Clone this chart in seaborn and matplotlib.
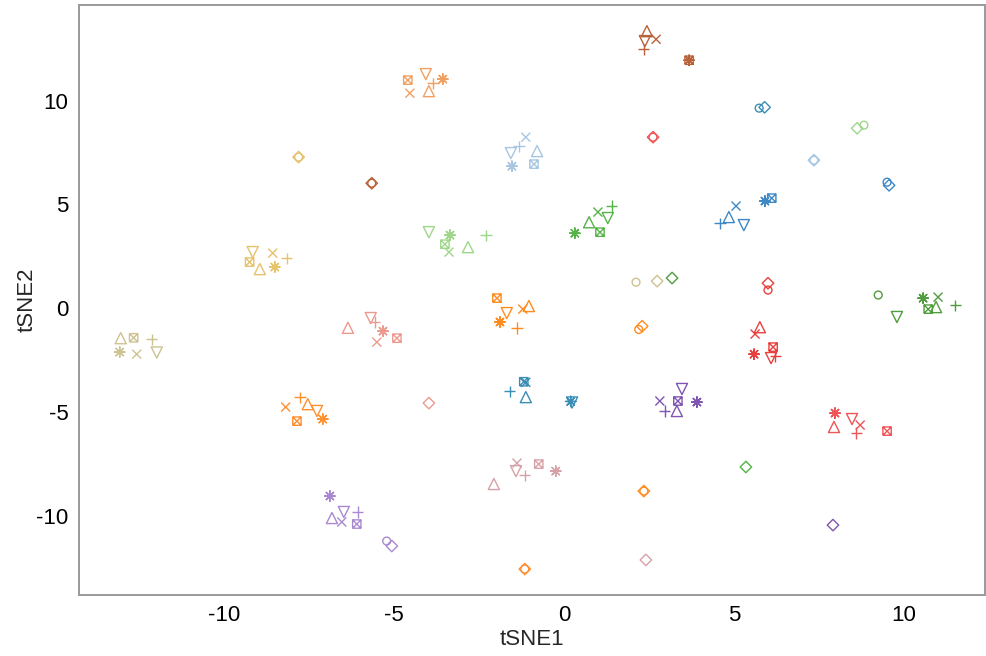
import numpy as np
import pandas as pd
import seaborn as sns
import matplotlib.pyplot as plt
from matplotlib.path import Path
from matplotlib.markers import MarkerStyle

sns.set_style("white")
plt.rcParams["font.family"] = ["Liberation Sans", "DejaVu Sans"]
plt.rcParams["axes.unicode_minus"] = False

# six-marker clusters: one row per group, columns follow shape_order
shape_order = ["up", "down", "x", "plus", "star", "sqx"]
cluster_groups = ["brown", "ltorange", "ltblue", "green", "blue", "ltgreen",
                  "gold", "khaki", "salmon", "orange", "red", "dkgreen",
                  "teal", "purple", "orange2", "red2", "ltpink", "ltpurple"]
cluster_t1 = [
    [2.44, 2.38, 2.71, 2.35, 3.68, 3.68],
    [-3.97, -4.06, -4.53, -3.85, -3.56, -4.59],
    [-0.79, -1.56, -1.12, -1.32, -1.53, -0.88],
    [0.74, 1.29, 1.00, 1.41, 0.32, 1.06],
    [4.85, 5.29, 5.06, 4.59, 5.91, 6.11],
    [-2.82, -3.97, -3.38, -2.29, -3.35, -3.50],
    [-8.94, -9.15, -8.56, -8.15, -8.50, -9.24],
    [-13.03, -11.97, -12.56, -12.12, -13.06, -12.65],
    [-6.35, -5.68, -5.50, -5.56, -5.32, -4.91],
    [-1.03, -1.68, -1.21, -1.38, -1.88, -1.97],
    [5.76, 6.09, 5.62, 6.21, 5.59, 6.15],
    [10.94, 9.79, 11.00, 11.50, 10.56, 10.71],
    [-1.12, 0.24, -1.12, -1.59, 0.20, -1.18],
    [3.32, 3.47, 2.82, 2.97, 3.91, 3.35],
    [-7.53, -7.26, -8.18, -7.76, -7.09, -7.85],
    [7.94, 8.47, 8.71, 8.59, 7.97, 9.50],
    [-2.06, -1.41, -1.38, -1.15, -0.24, -0.74],
    [-6.82, -6.47, -6.53, -6.06, -6.88, -6.09],
]
cluster_t2 = [
    [13.35, 12.87, 12.96, 12.48, 11.95, 11.95],
    [10.46, 11.28, 10.36, 10.84, 11.04, 10.99],
    [7.57, 7.47, 8.24, 7.81, 6.84, 6.94],
    [4.14, 4.34, 4.63, 4.92, 3.61, 3.66],
    [4.39, 4.00, 4.92, 4.10, 5.16, 5.30],
    [2.94, 3.66, 2.70, 3.52, 3.52, 3.08],
    [1.88, 2.70, 2.65, 2.41, 1.98, 2.22],
    [-1.45, -2.14, -2.22, -1.50, -2.12, -1.43],
    [-0.95, -0.48, -1.64, -0.67, -1.11, -1.45],
    [0.10, -0.24, -0.05, -0.96, -0.67, 0.48],
    [-0.92, -2.41, -1.25, -2.31, -2.22, -1.88],
    [0.05, -0.43, 0.53, 0.14, 0.48, -0.05],
    [-4.29, -4.55, -3.58, -4.00, -4.50, -3.55],
    [-4.96, -3.90, -4.48, -4.96, -4.53, -4.48],
    [-4.63, -4.96, -4.77, -4.29, -5.35, -5.45],
    [-5.73, -5.35, -5.64, -6.02, -5.06, -5.93],
    [-8.48, -7.86, -7.47, -8.05, -7.86, -7.52],
    [-10.12, -9.83, -10.31, -9.83, -9.06, -10.41],
]

# single circles / diamonds
extra_group = ["gold", "gold", "brown", "brown", "red2", "red2", "teal", "teal",
               "ltgreen", "ltgreen", "ltblue", "ltblue", "blue", "blue",
               "khaki", "khaki", "dkgreen", "orange", "orange", "red", "red",
               "dkgreen", "salmon", "green", "purple", "ltpurple", "ltpurple",
               "orange", "orange", "orange2", "orange2", "ltpink"]
extra_shape = ["diamond", "circle", "diamond", "circle", "diamond", "circle",
               "circle", "diamond", "diamond", "circle", "diamond", "circle",
               "circle", "diamond", "circle", "diamond", "diamond", "circle",
               "diamond", "diamond", "circle", "circle", "diamond", "diamond",
               "diamond", "circle", "diamond", "diamond", "circle", "diamond",
               "circle", "diamond"]
extra_t1 = [-7.80, -7.80, -5.65, -5.65, 2.62, 2.62, 5.74, 5.90,
            8.62, 8.82, 7.35, 7.35, 9.50, 9.56,
            2.12, 2.74, 3.18, 2.20, 2.30, 6.00, 6.00,
            9.24, -3.97, 5.35, 7.91, -5.21, -5.06,
            2.35, 2.35, -1.15, -1.15, 2.41]
extra_t2 = [7.28, 7.28, 6.02, 6.02, 8.24, 8.24, 9.64, 9.68,
            8.67, 8.82, 7.13, 7.13, 6.07, 5.92,
            1.25, 1.30, 1.45, -1.03, -0.87, 1.20, 0.87,
            0.63, -4.58, -7.66, -10.46, -11.23, -11.47,
            -8.82, -8.82, -12.58, -12.58, -12.14]

palette = {
    "brown": "#b8623a", "ltorange": "#f2a062", "ltblue": "#a6c6e2",
    "green": "#55b347", "blue": "#3f88c5", "ltgreen": "#9fd68c",
    "gold": "#e6c26c", "khaki": "#cdc292", "salmon": "#ec9a90",
    "orange": "#ff8c1f", "red": "#e8403e", "dkgreen": "#4f9d3e",
    "teal": "#3a8db4", "purple": "#7f56b2", "orange2": "#ff9030",
    "red2": "#ef5458", "ltpink": "#d6a2a8", "ltpurple": "#a98ad0",
}

rows = []
for g, xs, ys in zip(cluster_groups, cluster_t1, cluster_t2):
    for shp, xv, yv in zip(shape_order, xs, ys):
        rows.append((g, shp, xv, yv))
for g, shp, xv, yv in zip(extra_group, extra_shape, extra_t1, extra_t2):
    rows.append((g, shp, xv, yv))
df = pd.DataFrame(rows, columns=["group", "shape", "tSNE1", "tSNE2"])

# boxed cross, like ggplot shape 7
sq = Path([(-1, -1), (1, -1), (1, 1), (-1, 1), (-1, -1),
           (-1, -1), (1, 1), (-1, 1), (1, -1)],
          [Path.MOVETO, Path.LINETO, Path.LINETO, Path.LINETO, Path.LINETO,
           Path.MOVETO, Path.LINETO, Path.MOVETO, Path.LINETO])

markers = {
    "up": MarkerStyle("^", fillstyle="none"),
    "down": MarkerStyle("v", fillstyle="none"),
    "x": MarkerStyle("x"),
    "plus": MarkerStyle("+"),
    "star": MarkerStyle((8, 2, 0)),
    "sqx": MarkerStyle(sq, fillstyle="none"),
    "circle": MarkerStyle("o", fillstyle="none"),
    "diamond": MarkerStyle("D", fillstyle="none"),
}
sizes = {"up": 64, "down": 64, "x": 42, "plus": 64, "star": 56,
         "sqx": 36, "circle": 32, "diamond": 34}

fig, ax = plt.subplots(figsize=(9.86, 6.56), dpi=100)
fig.subplots_adjust(left=0.080, right=0.999, bottom=0.093, top=0.992)

for shp, mk in markers.items():
    sub = df[df["shape"] == shp]
    sns.scatterplot(data=sub, x="tSNE1", y="tSNE2", hue="group",
                    palette=palette, marker=mk, s=sizes[shp],
                    linewidth=1.0, legend=False, ax=ax)
    pts = ax.collections[-1]
    pts.set_edgecolor(pts.get_facecolor())
    pts.set_facecolor("none")

ax.set_xlim(-14.26, 12.38)
ax.set_ylim(-13.83, 14.6)
ax.set_xticks([-10, -5, 0, 5, 10])
ax.set_yticks([-10, -5, 0, 5, 10])
ax.tick_params(axis="both", labelsize=16, length=4, width=1,
               color="#555555", labelcolor="black", direction="out")
for sp in ax.spines.values():
    sp.set_visible(True)
    sp.set_color("#999999")
    sp.set_linewidth(1.4)
ax.set_xlabel("tSNE1", fontsize=16, labelpad=2)
ax.set_ylabel("tSNE2", fontsize=16)
ax.yaxis.set_label_coords(-0.045, 0.5)

plt.savefig("out.png", dpi=100)
